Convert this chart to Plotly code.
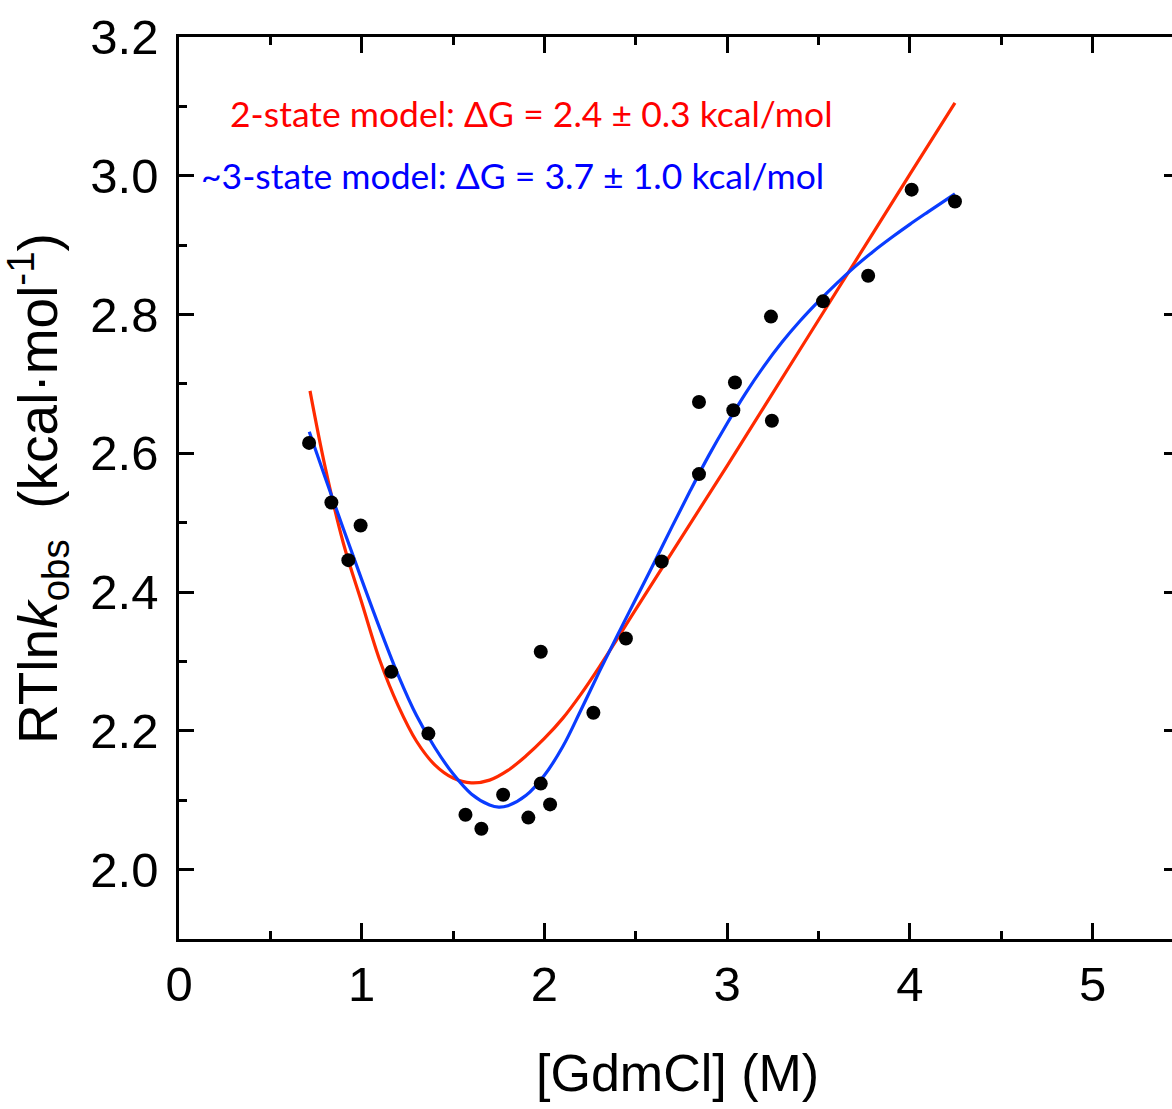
import plotly.graph_objects as go

# Observed data points: [GdmCl] (M) and RTln k_obs (kcal/mol)
gdmcl = [0.712, 0.834, 0.927, 0.994, 1.162, 1.365, 1.568, 1.655, 1.774, 1.912,
         1.980, 1.980, 2.031, 2.268, 2.446, 2.642, 2.846, 2.846, 3.034, 3.043,
         3.240, 3.245, 3.525, 3.772, 4.010, 4.247]
rtlnk = [2.615, 2.529, 2.446, 2.496, 2.285, 2.196, 2.079, 2.059, 2.108, 2.075,
         2.124, 2.314, 2.094, 2.226, 2.333, 2.444, 2.570, 2.674, 2.662, 2.702,
         2.797, 2.647, 2.819, 2.856, 2.980, 2.963]

# 2-state model fit curve
fit2_x = [0.717, 0.80, 0.90, 1.00, 1.10, 1.20, 1.30, 1.40, 1.50, 1.60, 1.70,
          1.80, 1.90, 2.00, 2.10, 2.20, 2.30, 2.50, 2.70, 3.00, 3.40, 3.70,
          4.00, 4.247]
fit2_y = [2.690, 2.580, 2.470, 2.385, 2.301, 2.236, 2.185, 2.151, 2.132, 2.125,
          2.129, 2.143, 2.164, 2.189, 2.218, 2.253, 2.292, 2.375, 2.458, 2.582,
          2.750, 2.876, 3.002, 3.105]

# ~3-state model fit curve
fit3_x = [0.713, 0.80, 0.90, 1.00, 1.10, 1.20, 1.30, 1.40, 1.50, 1.60, 1.70,
          1.75, 1.80, 1.90, 2.00, 2.10, 2.20, 2.30, 2.40, 2.50, 2.60, 2.70,
          2.80, 2.90, 3.00, 3.10, 3.20, 3.30, 3.40, 3.50, 3.60, 3.70, 3.80,
          3.90, 4.00, 4.10, 4.247]
fit3_y = [2.631, 2.565, 2.491, 2.418, 2.347, 2.280, 2.222, 2.176, 2.138, 2.109,
          2.093, 2.090, 2.092, 2.107, 2.136, 2.177, 2.230, 2.285, 2.338, 2.390,
          2.442, 2.495, 2.547, 2.597, 2.643, 2.686, 2.725, 2.760, 2.791, 2.819,
          2.845, 2.869, 2.891, 2.911, 2.930, 2.948, 2.974]

label_2state = "2-state model: ΔG = 2.4 ± 0.3 kcal/mol"
label_3state = "~3-state model: ΔG = 3.7 ± 1.0 kcal/mol"

FONT = "Liberation Sans, Arial, sans-serif"

fig = go.Figure()
fig.add_trace(go.Scatter(x=fit2_x, y=fit2_y, mode="lines",
                         line=dict(color="#FF2A00", width=3.2, shape="spline", smoothing=1.0),
                         showlegend=False, hoverinfo="skip"))
fig.add_trace(go.Scatter(x=fit3_x, y=fit3_y, mode="lines",
                         line=dict(color="#0A3CFF", width=3.2, shape="spline", smoothing=1.0),
                         showlegend=False, hoverinfo="skip"))
fig.add_trace(go.Scatter(x=gdmcl, y=rtlnk, mode="markers",
                         marker=dict(color="black", size=14, line=dict(width=0)),
                         showlegend=False))
# empty trace so the right-hand (mirrored) tick axis is drawn
fig.add_trace(go.Scatter(x=[], y=[], yaxis="y2", showlegend=False, hoverinfo="skip"))

fig.update_layout(
    width=1172, height=1109,
    margin=dict(l=179, r=0, t=37, b=170),
    paper_bgcolor="white", plot_bgcolor="white",
    font=dict(family=FONT, color="black"),
    xaxis=dict(range=[0, 5.435], dtick=1, tick0=0,
               showline=True, linecolor="black", linewidth=2.6, mirror="ticks",
               ticks="inside", ticklen=16, tickwidth=2.6, tickcolor="black",
               minor=dict(dtick=0.5, ticks="inside", ticklen=8, tickwidth=2.6, tickcolor="black"),
               showgrid=False, zeroline=False,
               tickfont=dict(size=49, family=FONT), ticklabelstandoff=0),
    yaxis=dict(range=[1.9, 3.2], dtick=0.2, tick0=0, tickformat=".1f",
               showline=True, linecolor="black", linewidth=2.6,
               ticks="inside", ticklen=15, tickwidth=2.6, tickcolor="black",
               minor=dict(dtick=0.1, ticks="inside", ticklen=8, tickwidth=2.6, tickcolor="black"),
               showgrid=False, zeroline=False,
               tickfont=dict(size=49, family=FONT), ticklabelstandoff=8),
    yaxis2=dict(range=[1.9, 3.2], overlaying="y", side="right", anchor="x",
                dtick=0.2, tick0=0, ticks="inside", ticklen=8, tickwidth=2.6,
                tickcolor="black", showticklabels=False, showline=False,
                showgrid=False, zeroline=False),
)

fig.add_annotation(text="[GdmCl] (M)", xref="paper", yref="paper",
                   x=0.5025, y=-0.1486, xanchor="center", yanchor="middle",
                   showarrow=False, font=dict(size=52, family=FONT, color="black"))
fig.add_annotation(text="RTln<i>k</i><sub>obs</sub>  (kcal·mol<sup>-1</sup>)",
                   xref="paper", yref="paper", x=-0.142, y=0.5,
                   xanchor="center", yanchor="middle", textangle=-90,
                   showarrow=False, font=dict(size=55, family=FONT, color="black"))
fig.add_annotation(text=label_2state, xref="x", yref="y", x=0.268, y=3.090,
                   xanchor="left", yanchor="middle", showarrow=False,
                   font=dict(size=35.5, family="Lato, sans-serif", color="#FF0000"))
fig.add_annotation(text=label_3state, xref="x", yref="y", x=0.109, y=3.000,
                   xanchor="left", yanchor="middle", showarrow=False,
                   font=dict(size=35.5, family="Lato, sans-serif", color="#0000FF"))

fig.write_html("out.html")
